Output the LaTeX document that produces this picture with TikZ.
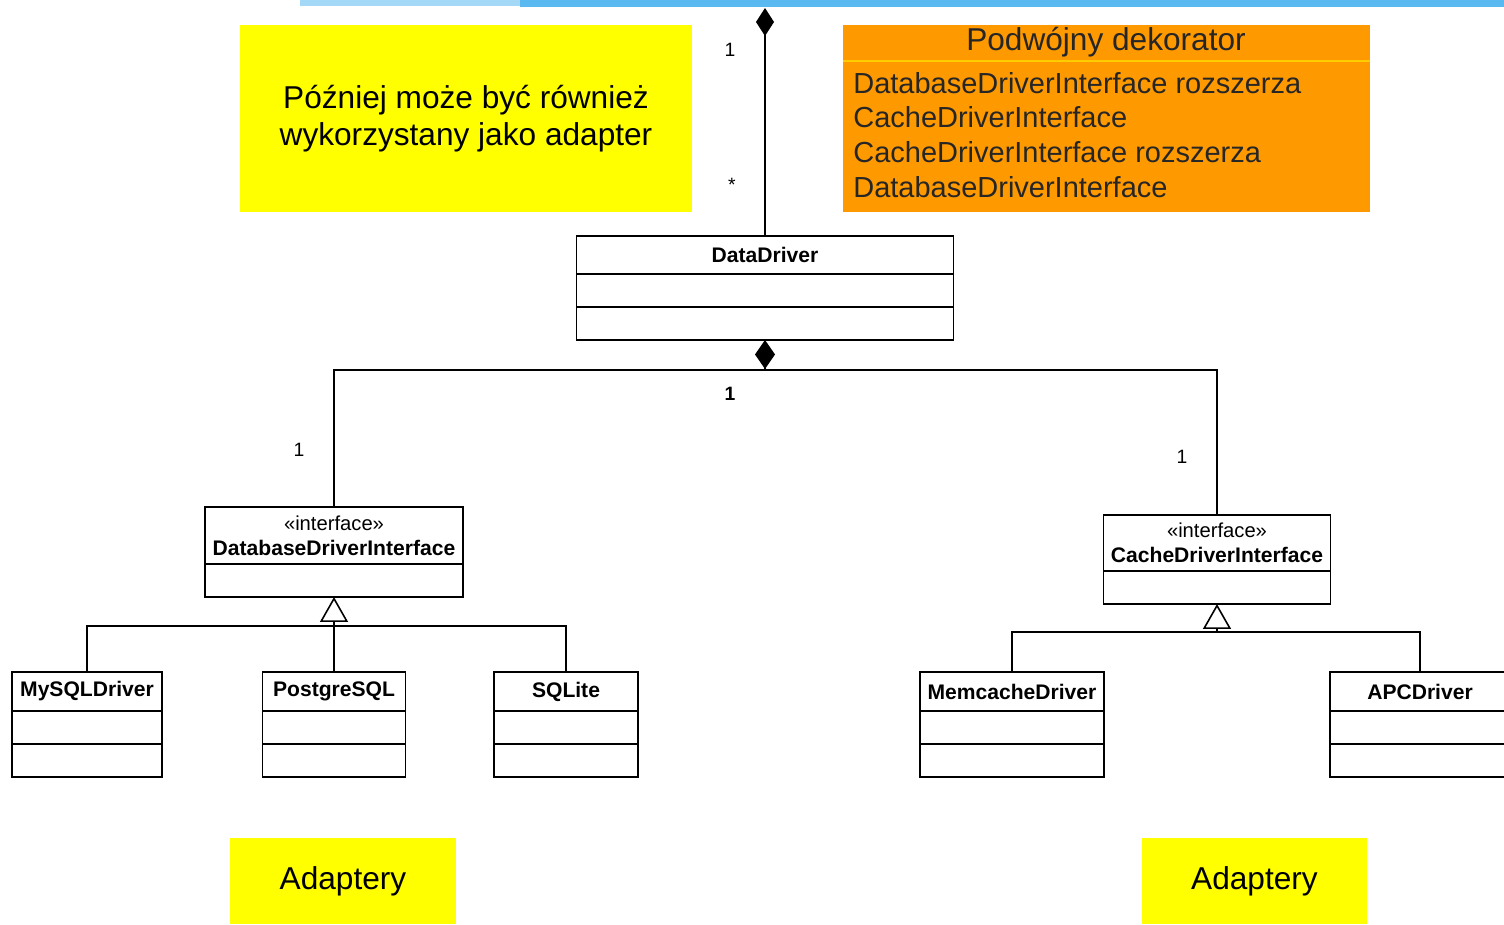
\documentclass[tikz,border=0pt]{standalone}
\usepackage{fontspec}
\setmainfont{Liberation Sans}
\usetikzlibrary{positioning, arrows.meta}
\definecolor{noteyellow}{RGB}{255,255,0}
\definecolor{noteorange}{RGB}{255,153,0}
\definecolor{slideblue}{RGB}{90,185,240}
\tikzstyle{cls} = [draw, fill=white, line width=0.9pt, inner sep=0pt, outer sep=0pt,
        anchor=north, align=center, font=\fontsize{12}{14}\selectfont\bfseries]
\tikzstyle{part} = [draw, fill=white, line width=0.9pt, inner sep=0pt, outer sep=0pt,
        minimum height=0.66cm]
\tikzset{note/.style={fill=noteyellow, inner sep=0pt, align=center,
        font=\fontsize{18}{21}\selectfont},
    mult/.style={font=\fontsize{11}{13}\selectfont, inner sep=1pt},
    link/.style={line width=0.9pt}
}

\begin{document}
\begin{tikzpicture}[x=0.02cm, y=-0.02cm]
    \useasboundingbox (0,0) rectangle (1504,924);
    % slide band
    \fill[slideblue!55!white] (300,0) rectangle (520,6);
    \fill[slideblue] (520,0) rectangle (1504,7);

    % notes
    \node[note, minimum width=9.04cm, minimum height=3.74cm] (later) at (466,118.5)
        {Później może być również\\wykorzystany jako adapter};
    \node[fill=noteorange, minimum width=10.54cm, minimum height=3.74cm, inner sep=0pt] (deco) at (1106.5,118.5) {};
    \draw[noteorange!50!yellow, line width=0.6pt] (deco.west |- 0,61) -- (deco.east |- 0,61);
    \node[font=\fontsize{18}{21}\selectfont, text=black!85, inner sep=0pt] (decotitle) at (1106,42) {Podwójny dekorator};
    \node[anchor=west, align=left, font=\fontsize{16.5}{19.8}\selectfont, text=black!85, inner sep=0pt] (decotext) at (853,135)
        {DatabaseDriverInterface rozszerza\\CacheDriverInterface\\CacheDriverInterface rozszerza\\DatabaseDriverInterface};
    \node[note, minimum width=4.52cm, minimum height=1.72cm] (adl) at (343,881) {Adaptery};
    \node[note, minimum width=4.5cm, minimum height=1.72cm] (adr) at (1254.5,881) {Adaptery};

    % classes
    \node[cls, minimum width=7.54cm, minimum height=0.76cm] (dd) at (765,236) {DataDriver};
    \node[part, minimum width=7.54cm, below=0pt of dd] (dd1) {};
    \node[part, minimum width=7.54cm, below=0pt of dd1] (dd2) {};

    \node[cls, minimum width=5.16cm, minimum height=1.14cm] (ddi) at (334,507)
        {{\fontsize{11.5}{14}\selectfont\mdseries «interface»}\\DatabaseDriverInterface};
    \node[part, minimum width=5.16cm, below=0pt of ddi] (ddi1) {};
    \node[cls, minimum width=4.54cm, minimum height=1.12cm] (cdi) at (1217,515)
        {{\fontsize{11.5}{14}\selectfont\mdseries «interface»}\\CacheDriverInterface};
    \node[part, minimum width=4.54cm, below=0pt of cdi] (cdi1) {};

    \node[cls, minimum width=3.0cm, minimum height=0.78cm] (mysql) at (87,672) {MySQLDriver};
    \node[part, minimum width=3.0cm, below=0pt of mysql] (mysql1) {};
    \node[part, minimum width=3.0cm, below=0pt of mysql1] (mysql2) {};
    \node[cls, minimum width=2.86cm, minimum height=0.78cm] (pgsql) at (334,672) {PostgreSQL};
    \node[part, minimum width=2.86cm, below=0pt of pgsql] (pgsql1) {};
    \node[part, minimum width=2.86cm, below=0pt of pgsql1] (pgsql2) {};
    \node[cls, minimum width=2.88cm, minimum height=0.78cm] (sqlite) at (566,672) {SQLite};
    \node[part, minimum width=2.88cm, below=0pt of sqlite] (sqlite1) {};
    \node[part, minimum width=2.88cm, below=0pt of sqlite1] (sqlite2) {};
    \node[cls, minimum width=3.68cm, minimum height=0.78cm] (memc) at (1012,672) {MemcacheDriver};
    \node[part, minimum width=3.68cm, below=0pt of memc] (memc1) {};
    \node[part, minimum width=3.68cm, below=0pt of memc1] (memc2) {};
    \node[cls, minimum width=3.6cm, minimum height=0.78cm] (apc) at (1420,672) {APCDriver};
    \node[part, minimum width=3.6cm, below=0pt of apc] (apc1) {};
    \node[part, minimum width=3.6cm, below=0pt of apc1] (apc2) {};

    % connectors
    \coordinate (top) at (765,8);
    \coordinate (bus) at (765,370);
    \coordinate (dbjoin) at (334,626);
    \coordinate (cjoin) at (1217,632);
    \draw[link, -{Diamond[length=0.56cm, width=0.36cm]}] (dd.north) -- (top);
    \draw[link] (ddi.north) |- (bus) -| (cdi.north);
    \draw[link, -{Diamond[length=0.58cm, width=0.4cm]}] (bus) -- (dd2.south);
    \draw[link] (mysql.north) |- (dbjoin) -| (sqlite.north);
    \draw[link, -{Triangle[open, length=0.5cm, width=0.56cm, fill=white]}] (pgsql.north) -- (ddi1.south);
    \draw[link] (memc.north) |- (cjoin) -| (apc.north);
    \draw[link, -{Triangle[open, length=0.5cm, width=0.56cm, fill=white]}] (cjoin) -- (cdi1.south);

    % multiplicities
    \node[mult] (mtop) at (730,50) {1};
    \node[mult] (mstar) at (732,185) {*};
    \node[mult, font=\fontsize{11}{13}\selectfont\bfseries] (mbus) at (730,394) {1};
    \node[mult] (mddi) at (299,450) {1};
    \node[mult] (mcdi) at (1182,457) {1};
\end{tikzpicture}
\end{document}
